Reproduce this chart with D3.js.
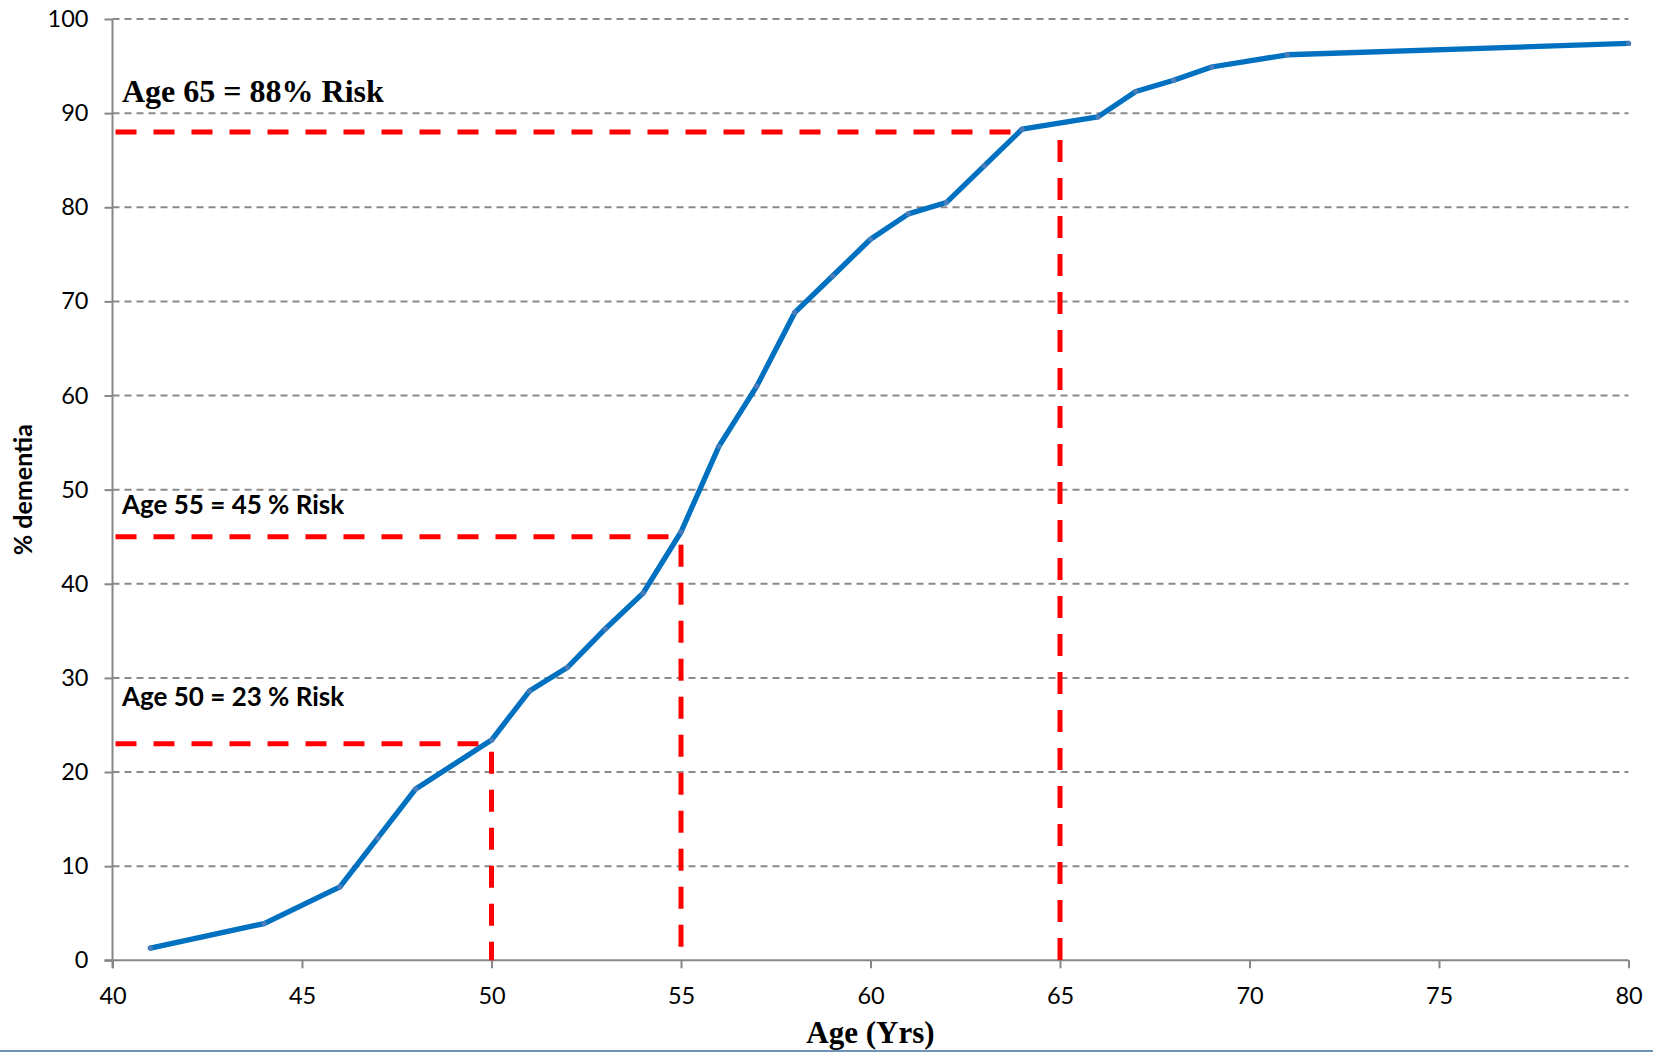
<!DOCTYPE html>
<html>
<head>
<meta charset="utf-8">
<script src="https://cdn.jsdelivr.net/npm/d3@7"></script>
<style>
  html, body { margin: 0; padding: 0; background: #fff; }
  svg { display: block; }
</style>
</head>
<body>
<svg id="chart" width="1653" height="1052"></svg>
<script>
// Cumulative dementia risk by age
const ages = [41, 44, 46, 47, 48, 50, 51, 52, 53, 54, 55, 56, 57, 58, 59, 60, 61, 62, 63, 64, 66, 67, 68, 69, 71, 80];
const risk = [1.3, 3.9, 7.8, 13.0, 18.2, 23.4, 28.6, 31.1, 35.2, 39.0, 45.5, 54.6, 61.0, 68.8, 72.7, 76.6, 79.3, 80.5, 84.4, 88.3, 89.6, 92.3, 93.5, 94.9, 96.2, 97.4];

// Axis ticks
const xTicks = [40, 45, 50, 55, 60, 65, 70, 75, 80];
const yTicks = [0, 10, 20, 30, 40, 50, 60, 70, 80, 90, 100];

// Reference markers (age -> risk) and their captions
const refAges = [50, 55, 65];
const refRisks = [23, 45, 88];
const refLabels = ["Age 50 = 23 % Risk", "Age 55 = 45 % Risk", "Age 65 = 88% Risk"];

const xTitle = "Age (Yrs)";
const yTitle = "% dementia";

const svg = d3.select("#chart");
const W = 1653, H = 1052;
const plot = { left: 112.5, right: 1628.5, top: 19, bottom: 960.3 };

const x = d3.scaleLinear().domain([40, 80]).range([plot.left, plot.right]);
const y = d3.scaleLinear().domain([0, 100]).range([plot.bottom, plot.top]);

const AXIS = "#868686";
const GRID = "#8a8a8a";
const SANS = "Lato, 'Open Sans', sans-serif";
const SERIF = "'Liberation Serif', 'DejaVu Serif', serif";

svg.append("rect").attr("width", W).attr("height", H).attr("fill", "#fff");

// Horizontal dashed gridlines
svg.append("g").selectAll("line")
  .data(yTicks.filter(d => d > 0))
  .join("line")
  .attr("x1", plot.left).attr("x2", plot.right)
  .attr("y1", d => y(d)).attr("y2", d => y(d))
  .attr("stroke", GRID).attr("stroke-width", 2)
  .attr("stroke-dasharray", "7,5");

// Y axis
const yAxis = d3.axisLeft(y).tickValues(yTicks).tickSize(8).tickPadding(16).tickFormat(d3.format("d"));
const gy = svg.append("g").attr("transform", `translate(${plot.left},0)`).call(yAxis);
gy.select(".domain").attr("stroke", AXIS).attr("stroke-width", 2).attr("d", `M0,${plot.bottom + 8}V${plot.top}`);
gy.selectAll(".tick line").attr("stroke", AXIS).attr("stroke-width", 2);
gy.selectAll(".tick text")
  .attr("font-family", SANS).attr("font-size", 23.5).attr("fill", "#000");

// X axis
const xAxis = d3.axisBottom(x).tickValues(xTicks).tickSize(8).tickPadding(19).tickFormat(d3.format("d"));
const gx = svg.append("g").attr("transform", `translate(0,${plot.bottom})`).call(xAxis);
gx.select(".domain").attr("stroke", AXIS).attr("stroke-width", 2).attr("d", `M${plot.left - 8},0H${plot.right}`);
gx.selectAll(".tick line").attr("stroke", AXIS).attr("stroke-width", 2);
gx.selectAll(".tick text")
  .attr("font-family", SANS).attr("font-size", 23.5).attr("fill", "#000");

// Axis titles
svg.append("text")
  .attr("x", (plot.left + plot.right) / 2).attr("y", 1043)
  .attr("text-anchor", "middle")
  .attr("font-family", SERIF).attr("font-weight", "bold").attr("font-size", 31)
  .text(xTitle);

svg.append("text")
  .attr("transform", `translate(32,${(plot.top + plot.bottom) / 2}) rotate(-90)`)
  .attr("text-anchor", "middle")
  .attr("font-family", SANS).attr("font-weight", "bold").attr("font-size", 25)
  .text(yTitle);

// Age at which the curve first reaches a given risk (linear between points)
function crossingAge(v) {
  for (let i = 1; i < ages.length; i++) {
    if (risk[i] >= v) {
      const t = (v - risk[i - 1]) / (risk[i] - risk[i - 1]);
      return ages[i - 1] + t * (ages[i] - ages[i - 1]);
    }
  }
  return ages[ages.length - 1];
}

// Red reference guides
const guides = svg.append("g");
refAges.forEach((a, i) => {
  const v = refRisks[i];
  guides.append("line")
    .attr("x1", plot.left + 3).attr("x2", x(crossingAge(v)) - 3)
    .attr("y1", y(v)).attr("y2", y(v))
    .attr("stroke", "#ff0000").attr("stroke-width", 5)
    .attr("stroke-dasharray", "21,17");
  guides.append("line")
    .attr("x1", x(a)).attr("x2", x(a))
    .attr("y1", y(v) + 8).attr("y2", plot.bottom)
    .attr("stroke", "#ff0000").attr("stroke-width", 5)
    .attr("stroke-dasharray", "22,16");
});

// Risk curve
const pts = ages.map((a, i) => [a, risk[i]]);
svg.append("path")
  .datum(pts)
  .attr("fill", "none")
  .attr("stroke", "#0070c0")
  .attr("stroke-width", 5.3)
  .attr("stroke-linejoin", "round")
  .attr("stroke-linecap", "round")
  .attr("d", d3.line().x(d => x(d[0])).y(d => y(d[1])));

svg.append("g").selectAll("circle")
  .data(pts)
  .join("circle")
  .attr("cx", d => x(d[0])).attr("cy", d => y(d[1]))
  .attr("r", 2.6)
  .attr("fill", "#4a7ebb");

// Captions
const captionStyle = [
  { dy: -38, family: SANS, size: 26 },
  { dy: -23, family: SANS, size: 26 },
  { dy: -30, family: SERIF, size: 32 }
];
refLabels.forEach((t, i) => {
  const s = captionStyle[i];
  svg.append("text")
    .attr("x", 122).attr("y", y(refRisks[i]) + s.dy)
    .attr("font-family", s.family).attr("font-weight", "bold").attr("font-size", s.size)
    .attr("fill", "#000")
    .text(t);
});

// Thin rule along the bottom edge
svg.append("line")
  .attr("x1", 0).attr("x2", W).attr("y1", 1051).attr("y2", 1051)
  .attr("stroke", "#3a6fa5").attr("stroke-width", 1.5);
</script>
</body>
</html>
